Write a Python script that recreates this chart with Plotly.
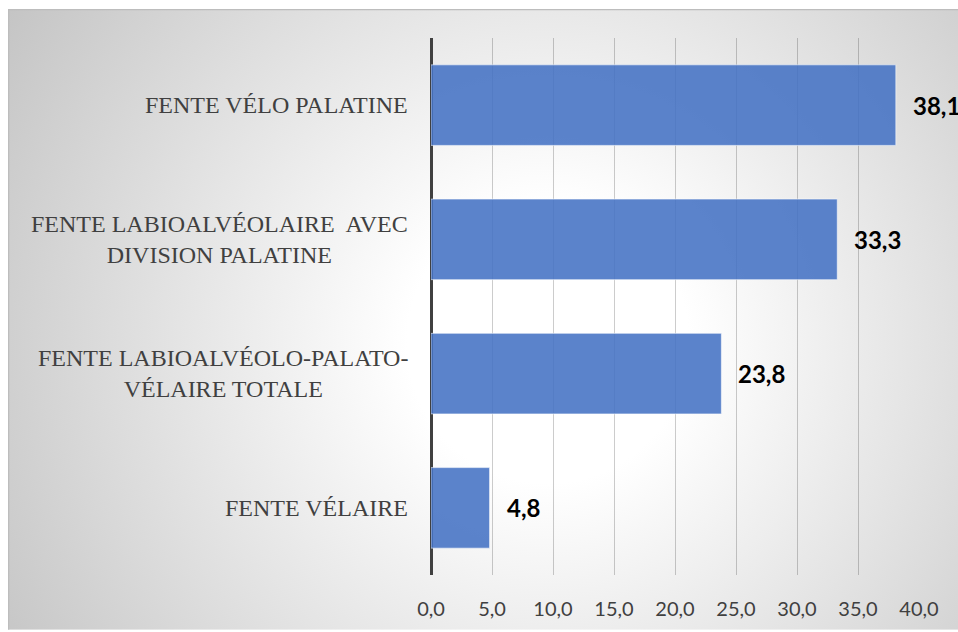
import base64
import plotly.graph_objects as go

# ---- data ----
categories = [
    "FENTE VÉLO PALATINE",
    "FENTE LABIOALVÉOLAIRE  AVEC<br>DIVISION PALATINE",
    "FENTE LABIOALVÉOLO-PALATO-<br>VÉLAIRE TOTALE",
    "FENTE VÉLAIRE",
]
values = [38.1, 33.3, 23.8, 4.8]
tick_vals = [0, 5, 10, 15, 20, 25, 30, 35, 40]
tick_text = ["0,0", "5,0", "10,0", "15,0", "20,0", "25,0", "30,0", "35,0", "40,0"]

W, H = 958, 632
L, R, T, B = 431, 39, 38, 55
PW, PH = W - L - R, H - T - B

# background: radial gradient panel with a thin border (top/left visible)
BX, BY, BW, BH = 8, 9, 950, 623
svg = f'''<svg xmlns="http://www.w3.org/2000/svg" width="{BW}" height="{BH}" viewBox="0 0 {BW} {BH}">
<defs><radialGradient id="g" gradientUnits="userSpaceOnUse" cx="540" cy="335" r="640">
<stop offset="0" stop-color="#ffffff"/><stop offset="0.22" stop-color="#ffffff"/>
<stop offset="1" stop-color="#c4c4c4"/></radialGradient></defs>
<rect x="0" y="0" width="{BW}" height="{BH}" fill="url(#g)"/>
<line x1="0" y1="0.5" x2="{BW}" y2="0.5" stroke="#bdbdbd" stroke-width="1.5"/>
<line x1="0.5" y1="0" x2="0.5" y2="{BH}" stroke="#bdbdbd" stroke-width="1.5"/>
</svg>'''
src = "data:image/svg+xml;base64," + base64.b64encode(svg.encode()).decode()

fig = go.Figure()
fig.add_trace(go.Bar(
    x=values, y=categories, orientation="h", width=0.6,
    marker=dict(color="rgba(68,114,196,0.88)",
                line=dict(color="rgba(255,255,255,0.55)", width=1)),
    hoverinfo="skip",
))

annotations = []
for c, v in zip(categories, values):
    annotations.append(dict(
        x=v, y=c, xref="x", yref="y", text=f"{v:.1f}".replace(".", ","),
        showarrow=False, xanchor="left", yanchor="middle", xshift=15,
        font=dict(family="Lato", size=24, color="#000000", weight="bold"),
    ))
    annotations.append(dict(
        x=0, y=c, xref="paper", yref="y", text=c, showarrow=False,
        xanchor="right", yanchor="middle", align="center", xshift=-21,
        font=dict(family="Liberation Serif", size=24, color="#404040"),
    ))

fig.update_layout(
    width=W, height=H,
    margin=dict(l=L, r=R, t=T, b=B, pad=0),
    paper_bgcolor="white", plot_bgcolor="rgba(0,0,0,0)",
    showlegend=False, bargap=0.4,
    images=[dict(
        source=src, xref="paper", yref="paper",
        x=(BX - L) / PW, y=1 + (T - BY) / PH,
        sizex=BW / PW, sizey=BH / PH,
        xanchor="left", yanchor="top", sizing="stretch", layer="below",
    )],
    annotations=annotations,
    xaxis=dict(
        range=[0, 40], tickvals=tick_vals, ticktext=tick_text,
        showgrid=True, gridcolor="rgba(0,0,0,0.2)", gridwidth=1.2,
        zeroline=True, zerolinecolor="#404040", zerolinewidth=3,
        showline=False, ticks="", ticklabelstandoff=20,
        tickfont=dict(family="Lato", size=20, color="#404040"),
        fixedrange=True,
    ),
    yaxis=dict(
        autorange="reversed", showticklabels=False, showgrid=False,
        zeroline=False, showline=False, ticks="", fixedrange=True,
    ),
)

fig.write_html("out.html")
